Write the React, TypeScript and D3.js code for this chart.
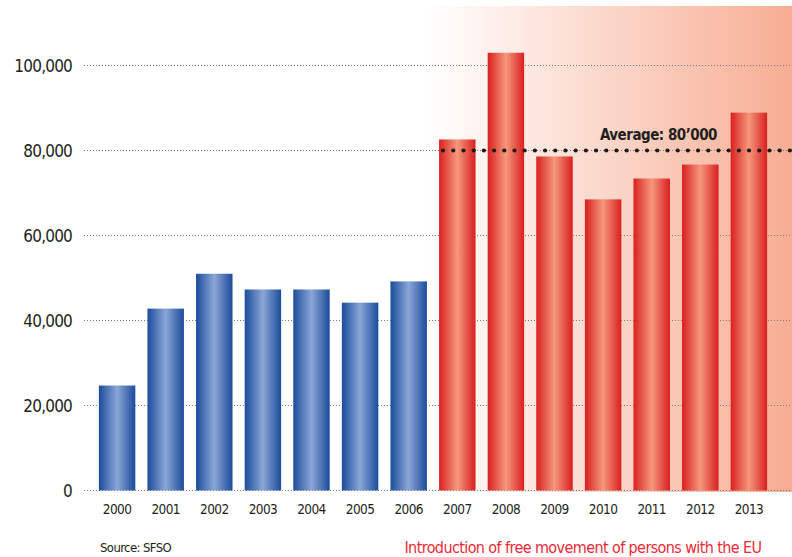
import React, { useRef, useEffect } from 'react';
import * as d3 from 'd3';

const years = ['2000', '2001', '2002', '2003', '2004', '2005', '2006', '2007', '2008', '2009', '2010', '2011', '2012', '2013'];
const immigration = [24700, 42800, 51000, 47300, 47300, 44200, 49200, 82600, 103000, 78600, 68500, 73400, 76700, 88900];
const yTicks = [0, 20000, 40000, 60000, 80000, 100000];
const averageValue = 80000;
const averageLabel = 'Average: 80’000';
const firstFreeYear = '2007';

const W = 792;
const H = 557;
const font = "'Liberation Sans Narrow', 'DejaVu Sans Condensed', 'Liberation Sans', sans-serif";

const App: React.FC = () => {
  const svgRef = useRef<SVGSVGElement>(null);

  useEffect(() => {
    if (!svgRef.current) return;
    const svg = d3.select(svgRef.current);
    svg.selectAll('*').remove();

    const x = d3.scaleBand<string>()
      .domain(years)
      .range([94, 772])
      .paddingInner(0.25)
      .paddingOuter(0.1);

    const y = d3.scaleLinear()
      .domain([0, 100000])
      .range([490.5, 65.5]);

    const defs = svg.append('defs');

    // background shading for the free movement period
    const bg = defs.append('linearGradient').attr('id', 'bgGrad');
    bg.append('stop').attr('offset', '0%').attr('stop-color', '#ffffff');
    bg.append('stop').attr('offset', '100%').attr('stop-color', '#f7ad93');

    const barGrad = (id: string, edge: string, mid: string) => {
      const g = defs.append('linearGradient').attr('id', id);
      g.append('stop').attr('offset', '0%').attr('stop-color', edge);
      g.append('stop').attr('offset', '50%').attr('stop-color', mid);
      g.append('stop').attr('offset', '100%').attr('stop-color', edge);
    };
    barGrad('blueGrad', '#1b4c9c', '#8ba6d6');
    barGrad('redGrad', '#d91f1f', '#f5987c');

    const bgStart = (x(firstFreeYear) || 0) - 12;
    svg.append('rect')
      .attr('x', bgStart)
      .attr('y', 6)
      .attr('width', W - bgStart)
      .attr('height', 486)
      .attr('fill', 'url(#bgGrad)');

    // gridlines
    svg.append('g')
      .selectAll('line')
      .data(yTicks)
      .enter()
      .append('line')
      .attr('x1', 84)
      .attr('x2', W)
      .attr('y1', d => y(d))
      .attr('y2', d => y(d))
      .attr('stroke', '#7a7a7a')
      .attr('stroke-width', 1)
      .attr('stroke-dasharray', '1,2');

    // y tick labels
    svg.append('g')
      .selectAll('text')
      .data(yTicks)
      .enter()
      .append('text')
      .attr('x', 72)
      .attr('y', d => y(d) + 6)
      .attr('text-anchor', 'end')
      .style('font-family', font)
      .style('font-size', '17px')
      .style('letter-spacing', '-0.8px')
      .style('fill', '#231f20')
      .text(d => d3.format(',')(d));

    // bars
    const freeIdx = years.indexOf(firstFreeYear);
    svg.append('g')
      .selectAll('rect')
      .data(years)
      .enter()
      .append('rect')
      .attr('x', d => x(d) || 0)
      .attr('y', (d, i) => y(immigration[i]))
      .attr('width', x.bandwidth())
      .attr('height', (d, i) => y(0) - y(immigration[i]))
      .attr('fill', (d, i) => (i >= freeIdx ? 'url(#redGrad)' : 'url(#blueGrad)'));

    // x labels
    svg.append('g')
      .selectAll('text')
      .data(years)
      .enter()
      .append('text')
      .attr('x', d => (x(d) || 0) + x.bandwidth() / 2)
      .attr('y', 514)
      .attr('text-anchor', 'middle')
      .style('font-family', font)
      .style('font-size', '13.5px')
      .style('letter-spacing', '-0.6px')
      .style('fill', '#231f20')
      .text(d => d);

    // average line
    const avgY = y(averageValue);
    const dots = d3.range(bgStart + 16, W, 10.2);
    svg.append('g')
      .selectAll('circle')
      .data(dots)
      .enter()
      .append('circle')
      .attr('cx', d => d)
      .attr('cy', avgY)
      .attr('r', 2.1)
      .attr('fill', '#1a1a1a');

    svg.append('text')
      .attr('x', 717)
      .attr('y', avgY - 11)
      .attr('text-anchor', 'end')
      .style('font-family', font)
      .style('font-size', '15px')
      .style('letter-spacing', '-0.5px')
      .style('font-weight', 'bold')
      .style('fill', '#231f20')
      .text(averageLabel);

    svg.append('text')
      .attr('x', 100)
      .attr('y', 552)
      .style('font-family', font)
      .style('font-size', '13px')
      .style('letter-spacing', '-0.6px')
      .style('fill', '#231f20')
      .text('Source: SFSO');

    svg.append('text')
      .attr('x', 583)
      .attr('y', 553)
      .attr('text-anchor', 'middle')
      .style('font-family', font)
      .style('font-size', '16px')
      .style('letter-spacing', '-0.6px')
      .style('fill', '#ec2a35')
      .text('Introduction of free movement of persons with the EU');
  }, []);

  return (
    <svg
      ref={svgRef}
      width={W}
      height={H}
      style={{ position: 'absolute', left: 0, top: 0, background: '#ffffff' }}
      viewBox={`0 0 ${W} ${H}`}
    />
  );
};

export default App;
